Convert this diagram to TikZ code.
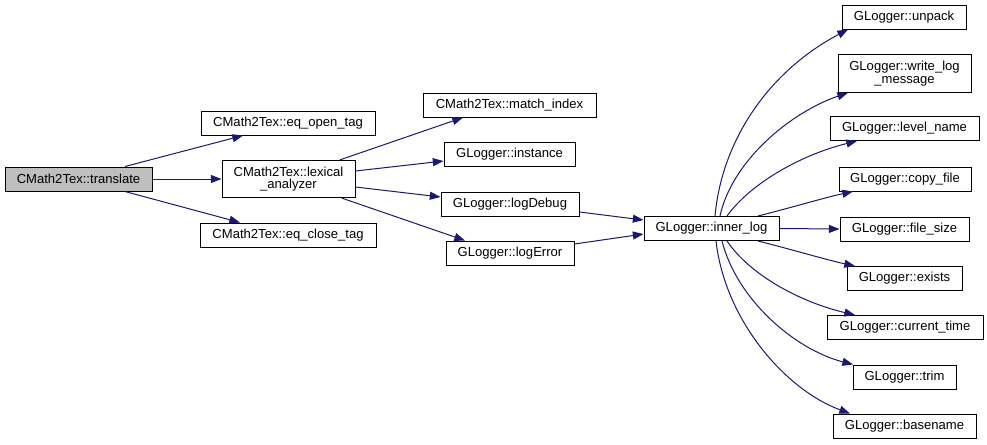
\documentclass[tikz,border=0pt]{standalone}
\usepackage{fontspec}
\setmainfont{Liberation Sans}
\usetikzlibrary{arrows.meta,calc}
\definecolor{edgeblue}{HTML}{191970}
\definecolor{hilite}{HTML}{BFBFBF}
\tikzset{
  fn/.style={draw=black, line width=0.75pt, fill=white, rectangle, inner sep=0pt,
    minimum height=18pt, align=center, font=\fontsize{9.8}{9.2}\selectfont},
  fn2/.style={fn, minimum height=28pt},
  call/.style={draw=edgeblue, line width=0.75pt,
    -{Triangle[length=8pt,width=6pt,fill=edgeblue]}},
}
\begin{document}
\begin{tikzpicture}[x=0.75pt,y=-0.75pt]
\path[use as bounding box] (0,0) rectangle (987,444);
% nodes
\node[fn, fill=hilite, minimum width=110.25pt] (translate) at (78.5,179) {CMath2Tex::translate};
\node[fn, minimum width=130.5pt] (eqopen) at (288,123) {CMath2Tex::eq\_open\_tag};
\node[fn2, minimum width=99.75pt] (lexical) at (288.5,179) {CMath2Tex::lexical\\\_analyzer};
\node[fn, minimum width=132pt] (eqclose) at (288,235) {CMath2Tex::eq\_close\_tag};
\node[fn, minimum width=129.75pt] (match) at (509.5,105) {CMath2Tex::match\_index};
\node[fn, minimum width=98.25pt] (instance) at (509.5,154) {GLogger::instance};
\node[fn, minimum width=103.5pt] (logdebug) at (510,204) {GLogger::logDebug};
\node[fn, minimum width=96pt] (logerror) at (510,253) {GLogger::logError};
\node[fn, minimum width=101.25pt] (inner) at (711.5,228.5) {GLogger::inner\_log};
\node[fn, minimum width=93pt] (unpack) at (904,17) {GLogger::unpack};
\node[fn2, minimum width=99.75pt] (writelog) at (904.5,73.5) {GLogger::write\_log\\\_message};
\node[fn, minimum width=111.75pt] (level) at (904.5,128.5) {GLogger::level\_name};
\node[fn, minimum width=99pt] (copy) at (905,179) {GLogger::copy\_file};
\node[fn, minimum width=96.75pt] (filesize) at (904.5,229) {GLogger::file\_size};
\node[fn, minimum width=86.25pt] (exists) at (904.5,278.5) {GLogger::exists};
\node[fn, minimum width=117pt] (current) at (905,327.5) {GLogger::current\_time};
\node[fn, minimum width=77.25pt] (trim) at (904.5,377) {GLogger::trim};
\node[fn, minimum width=107.25pt] (basename) at (904.5,426) {GLogger::basename};
% edges from translate
\draw[call] ($(translate.north)+(46.5,0)$) -- ($(eqopen.south)+(-45,0)$);
\draw[call] (translate.east) -- (lexical.west);
\draw[call] ($(translate.south)+(46.5,0)$) -- ($(eqclose.north)+(-48,0)$);
% edges from lexical
\draw[call] ($(lexical.north)+(51.5,0)$) -- ($(match.south)+(-46.5,0)$);
\draw[call] ($(lexical.east)+(0,-8)$) -- ($(instance.west)+(0,7)$);
\draw[call] ($(lexical.east)+(0,8)$) -- ($(logdebug.west)+(0,-7)$);
\draw[call] ($(lexical.south)+(53.5,0)$) -- ($(logerror.north)+(-45,0)$);
% to inner_log
\draw[call] ($(logdebug.east)+(0,8)$) -- ($(inner.west)+(0,-8.5)$);
\draw[call] ($(logerror.east)+(0,-9)$) -- ($(inner.west)+(0,5.5)$);
% from inner_log
\draw[call] ($(inner.north)+(3.5,0)$) .. controls +(7,-77) and +(-78,41) .. ($(unpack.south)+(-56,0)$);
\draw[call] ($(inner.north)+(8.5,0)$) .. controls +(12,-55) and +(-58,20) .. ($(writelog.south)+(-56.5,0)$);
\draw[call] ($(inner.north)+(15.5,0)$) .. controls +(23,-32) and +(-57,14) .. ($(level.south)+(-47.5,0)$);
\draw[call] ($(inner.north)+(46.5,0)$) .. controls +(32,-8) and +(-28,6) .. ($(copy.south)+(-52,0)$);
\draw[call] (inner.east) -- (filesize.west);
\draw[call] ($(inner.south)+(46.5,0)$) .. controls +(32,8) and +(-28,-6) .. ($(exists.north)+(-49.5,0)$);
\draw[call] ($(inner.south)+(15.5,0)$) .. controls +(23,34) and +(-55,-13) .. ($(current.north)+(-50,0)$);
\draw[call] ($(inner.south)+(10.5,0)$) .. controls +(15,59) and +(-58,-15) .. ($(trim.north)+(-51.5,0)$);
\draw[call] ($(inner.south)+(4.5,0)$) .. controls +(9,79) and +(-65,-24) .. ($(basename.north)+(-54.5,0)$);
\end{tikzpicture}
\end{document}
